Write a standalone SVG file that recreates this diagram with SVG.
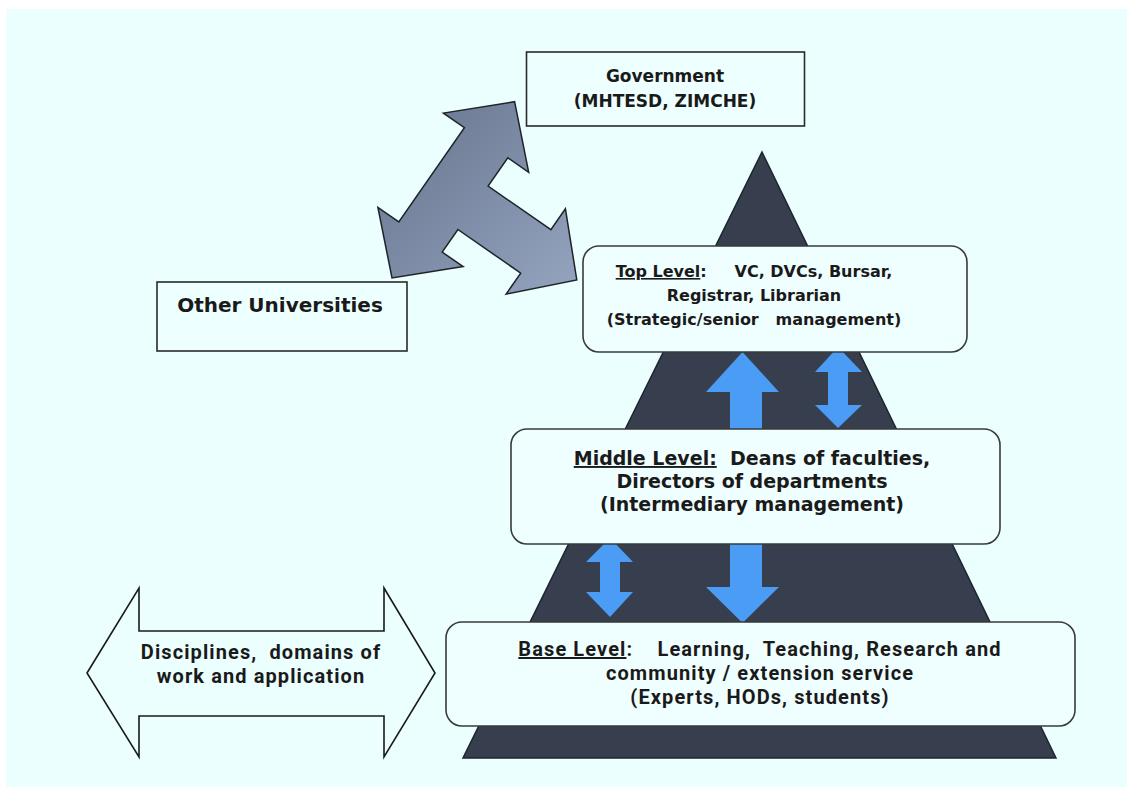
<svg xmlns="http://www.w3.org/2000/svg" width="1127" height="787" viewBox="0 0 1127 787">
  <defs>
    <linearGradient id="tripodFill" x1="0" y1="0" x2="1" y2="1">
      <stop offset="0" stop-color="#66748d"/>
      <stop offset="1" stop-color="#95a4bf"/>
    </linearGradient>
    <style>
      .box { fill: #eeffff; stroke: #2a2a2a; stroke-width: 1.6; }
      .rbox { fill: #effefe; stroke: #3a3a3a; stroke-width: 1.6; }
      .vt { font-family: "DejaVu Sans", Verdana, sans-serif; font-weight: bold; fill: #1a1a1a; text-anchor: middle; }
      .ct { font-family: Roboto, "Open Sans", sans-serif; font-weight: bold; fill: #1a1a1a; text-anchor: middle; font-size: 20px; letter-spacing: 1.1px; }
      .blue { fill: #4b9cf4; }
      .u { text-decoration: underline; }
    </style>
  </defs>

  <!-- backdrop -->
  <rect x="0" y="0" width="1127" height="787" fill="#ffffff"/>
  <rect x="6" y="9" width="1121" height="778" fill="#ebffff"/>

  <!-- pyramid -->
  <g id="pyramid">
    <polygon points="762,152 1056,758 463,758" fill="#373e4e" stroke="#1e2430" stroke-width="1.5"/>
  </g>

  <!-- three-way arrow: a double arrow with a branch toward the top level -->
  <g id="tripod">
    <polygon points="514.6,101.7 528.7,172.3 507.8,157.8 488.1,186.1 550.9,229.7 565.4,208.8 576.8,279.9 506.1,294.1 520.7,273.1 457.9,229.5 442.2,252.1 463.1,266.6 392,278 377.9,207.4 398.8,221.9 464.4,127.6 443.4,113.1"
             fill="url(#tripodFill)" stroke="#1f2328" stroke-width="1.5" stroke-linejoin="miter"/>
  </g>

  <!-- wide double arrow: disciplines -->
  <g id="disciplines">
    <polygon points="87,673 139,588 139,631 384,631 384,588 435,673 384,757 384,716 139,716 139,757"
             fill="#ebffff" stroke="#1a1a1a" stroke-width="1.6"/>
    <text class="ct" x="261" y="659" xml:space="preserve">Disciplines,  domains of</text>
    <text class="ct" x="261" y="683">work and application</text>
  </g>

  <!-- government -->
  <g id="government">
    <rect class="box" x="526.5" y="52" width="278" height="74"/>
    <text class="vt" font-size="17" x="665" y="82">Government</text>
    <text class="vt" font-size="17" x="665" y="107">(MHTESD, ZIMCHE)</text>
  </g>

  <!-- other universities -->
  <g id="other-universities">
    <rect class="box" x="157" y="282" width="250" height="69"/>
    <text class="vt" font-size="20" x="280" y="312">Other Universities</text>
  </g>

  <!-- connectors between pyramid levels -->
  <g id="connectors">
    <!-- up: middle to top -->
    <polygon class="blue" points="742.5,352 779,392 762,392 762,429 730,429 730,392 706,392"/>
    <!-- two-way: top and middle -->
    <polygon class="blue" points="838,347 862,372 848,372 848,405 862,405 838,428 815,405 828,405 828,372 815,372"/>
    <!-- two-way: middle and base -->
    <polygon class="blue" points="610,538 633,562 620,562 620,592 633,592 610,617 586,592 600,592 600,562 586,562"/>
    <!-- down: middle to base -->
    <polygon class="blue" points="730,544 762,544 762,587 779,587 742.5,623 706,587 730,587"/>
  </g>

  <!-- top level -->
  <g id="top-level">
    <rect class="rbox" x="583" y="246" width="384" height="106" rx="16"/>
    <text class="vt" font-size="16" x="754" y="277" xml:space="preserve"><tspan class="u">Top Level</tspan>:     VC, DVCs, Bursar,</text>
    <text class="vt" font-size="16" x="754" y="301">Registrar, Librarian</text>
    <text class="vt" font-size="16" x="754" y="325" xml:space="preserve">(Strategic/senior   management)</text>
  </g>

  <!-- middle level -->
  <g id="middle-level">
    <rect class="rbox" x="511" y="429" width="489" height="115" rx="16"/>
    <text class="vt" font-size="19" x="752" y="465" xml:space="preserve"><tspan class="u">Middle Level:</tspan>  Deans of faculties,</text>
    <text class="vt" font-size="19" x="752" y="488">Directors of departments</text>
    <text class="vt" font-size="19" x="752" y="511">(Intermediary management)</text>
  </g>

  <!-- base level -->
  <g id="base-level">
    <rect class="rbox" x="446" y="622" width="629" height="104" rx="16"/>
    <text class="ct" x="760" y="656" xml:space="preserve"><tspan class="u">Base Level</tspan>:    Learning,  Teaching, Research and</text>
    <text class="ct" x="760" y="680">community / extension service</text>
    <text class="ct" x="760" y="704">(Experts, HODs, students)</text>
  </g>
</svg>
